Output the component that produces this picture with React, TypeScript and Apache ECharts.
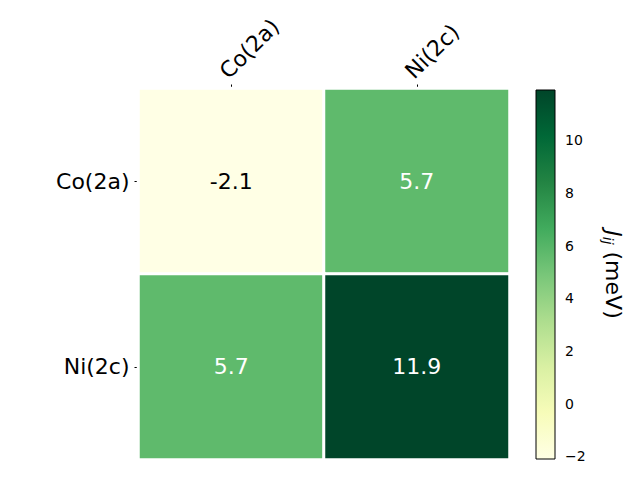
import React, { useEffect, useRef } from "react";
import * as echarts from "echarts";

const xCategories = ["Co(2a)", "Ni(2c)"];
const yCategories = ["Co(2a)", "Ni(2c)"];
// rows follow yCategories, columns follow xCategories
const valuesRow0 = [-2.1, 5.7];
const valuesRow1 = [5.7, 11.9];
const colorbarTicks = [-2, 0, 2, 4, 6, 8, 10];
const vMin = -2.1;
const vMax = 11.9;
const ylgn = ["#ffffe5", "#f7fcb9", "#d9f0a3", "#addd8e", "#78c679", "#41ab5d", "#238443", "#006837", "#004529"];

const FONT = "DejaVu Sans";
const minus = (v: number | string) => String(v).replace("-", "\u2212");

export default function App() {
  const ref = useRef<HTMLDivElement>(null);
  useEffect(() => {
    document.body.style.margin = "0";
    const chart = echarts.init(ref.current!, null, { renderer: "svg" });
    const rows = [valuesRow0, valuesRow1];
    const data: any[] = [];
    rows.forEach((row, yi) =>
      row.forEach((v, xi) => {
        const t = (v - vMin) / (vMax - vMin);
        data.push({ value: [xi, yi, v], label: { color: t < 0.5 ? "#000" : "#fff" } });
      })
    );
    const stops = ylgn.map((c, i) => ({ offset: 1 - i / (ylgn.length - 1), color: c })).reverse();
    chart.setOption({
      animation: false,
      textStyle: { fontFamily: FONT },
      grid: [
        { left: 138.5, top: 88.5, width: 371, height: 371 },
        { left: 536, top: 90, width: 19, height: 369 },
      ],
      xAxis: [
        {
          type: "category",
          gridIndex: 0,
          position: "top",
          data: xCategories,
          axisLine: { show: false },
          axisTick: { show: true, length: 4, alignWithLabel: true, lineStyle: { color: "#000" } },
          axisLabel: {
            rotate: -45,
            fontSize: 22,
            color: "#000",
            margin: 6,
            fontFamily: FONT,
            verticalAlign: "bottom",
          },
          splitArea: { show: false },
          splitLine: { show: false },
        },
        { type: "value", gridIndex: 1, min: 0, max: 1, show: false },
      ],
      yAxis: [
        {
          type: "category",
          gridIndex: 0,
          inverse: true,
          data: yCategories,
          axisLine: { show: false },
          axisTick: { show: true, length: 4, alignWithLabel: true, lineStyle: { color: "#000" } },
          axisLabel: { fontSize: 22, color: "#000", margin: 9, fontFamily: FONT },
          splitArea: { show: false },
          splitLine: { show: false },
        },
        {
          type: "value",
          gridIndex: 1,
          min: vMin,
          max: vMax,
          position: "right",
          axisLine: { show: false },
          splitLine: { show: false },
          axisTick: { show: true, length: 4, customValues: colorbarTicks, lineStyle: { color: "#000" } },
          axisLabel: {
            show: true,
            customValues: colorbarTicks,
            fontSize: 14,
            color: "#000",
            margin: 10,
            fontFamily: FONT,
            formatter: (v: number) => minus(v),
          },
          name: "{j|J}{s|ij}{n| (meV)}",
          nameLocation: "middle",
          nameRotate: -90,
          nameGap: 46,
          nameTextStyle: {
            color: "#000",
            rich: {
              j: { fontSize: 22, fontStyle: "italic", fontFamily: FONT, color: "#000" },
              s: { fontSize: 14, fontStyle: "italic", fontFamily: FONT, color: "#000", padding: [10, 0, 0, 0] },
              n: { fontSize: 22, fontFamily: FONT, color: "#000" },
            },
          },
        },
      ],
      visualMap: {
        type: "continuous",
        show: false,
        min: vMin,
        max: vMax,
        dimension: 2,
        seriesIndex: 0,
        inRange: { color: ylgn },
      },
      series: [
        {
          type: "heatmap",
          xAxisIndex: 0,
          yAxisIndex: 0,
          data,
          itemStyle: { borderColor: "#fff", borderWidth: 3 },
          label: {
            show: true,
            fontSize: 22,
            fontFamily: FONT,
            formatter: (p: any) => String(p.value[2]),
          },
          emphasis: { disabled: true },
        },
        {
          type: "custom",
          xAxisIndex: 1,
          yAxisIndex: 1,
          coordinateSystem: "cartesian2d",
          data: [[0]],
          silent: true,
          renderItem: (params: any, api: any) => {
            const p0 = api.coord([0, vMax]);
            const p1 = api.coord([1, vMin]);
            return {
              type: "rect",
              shape: { x: p0[0], y: p0[1], width: p1[0] - p0[0], height: p1[1] - p0[1] },
              style: {
                fill: new echarts.graphic.LinearGradient(0, 0, 0, 1, stops),
                stroke: "#000",
                lineWidth: 1,
              },
            };
          },
        },
      ],
    });
    return () => chart.dispose();
  }, []);
  return <div ref={ref} style={{ width: 640, height: 480 }} />;
}
